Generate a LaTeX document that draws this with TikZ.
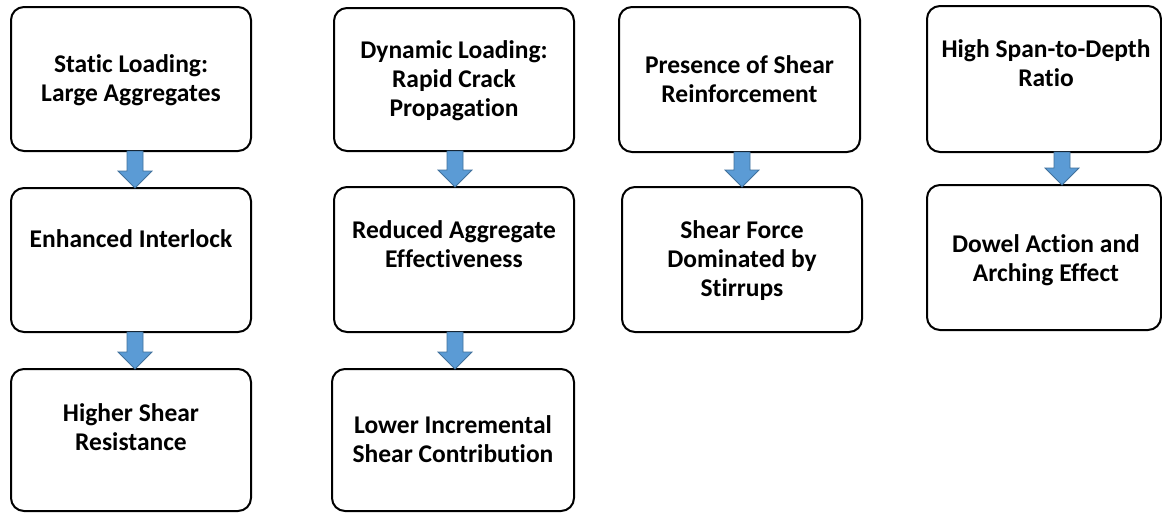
\documentclass[tikz,border=0pt]{standalone}
\usepackage{fontspec}
\setmainfont{Carlito}[Ligatures={NoCommon}]
\usetikzlibrary{calc}
\definecolor{arrowfill}{HTML}{5B9BD5}
\definecolor{arrowedge}{HTML}{41719C}
\newcommand{\mlines}[1]{\vtop{\baselineskip=29pt\lineskiplimit=-10pt\halign{\hfil##\hfil\cr#1\crcr}}}
\begin{document}
\begin{tikzpicture}[x=1pt,y=-1pt,
  stagebox/.style={draw=black,line width=2pt,rounded corners=13pt,inner sep=0pt,outer sep=0pt},
  txt/.style={inner sep=0pt,anchor=base,font=\fontsize{25.5}{29}\selectfont\bfseries},
  blockarrow/.style={fill=arrowfill,draw=arrowedge,line width=0.8pt,line join=miter}
]
\useasboundingbox (0,0) rectangle (1162,514);
\fill[white] (0,0) rectangle (1162,514);
% boxes
\node[stagebox,minimum width=240pt,minimum height=144pt] (A1) at (131,79) {};
\node[stagebox,minimum width=240pt,minimum height=144pt] (A2) at (131,260) {};
\node[stagebox,minimum width=240pt,minimum height=142pt] (A3) at (131,440) {};
\node[stagebox,minimum width=240pt,minimum height=143pt] (B1) at (454,79.5) {};
\node[stagebox,minimum width=240pt,minimum height=145pt] (B2) at (454,259.5) {};
\node[stagebox,minimum width=242pt,minimum height=142pt] (B3) at (453,440) {};
\node[stagebox,minimum width=241pt,minimum height=145pt] (C1) at (739.5,79.5) {};
\node[stagebox,minimum width=240pt,minimum height=145pt] (C2) at (742,259.5) {};
\node[stagebox,minimum width=234pt,minimum height=146pt] (D1) at (1044,79) {};
\node[stagebox,minimum width=234pt,minimum height=145pt] (D2) at (1044,257.5) {};
% texts
\node[txt] (tA1) at (131,72) {\mlines{Static Loading:\cr Large Aggregates}};
\node[txt] (tA2) at (131,247) {\mlines{Enhanced Interlock}};
\node[txt] (tA3) at (131,421) {\mlines{Higher Shear\cr Resistance}};
\node[txt] (tB1) at (454,58) {\mlines{Dynamic Loading:\cr Rapid Crack\cr Propagation}};
\node[txt] (tB2) at (454,238) {\mlines{Reduced Aggregate\cr Effectiveness}};
\node[txt] (tB3) at (453,433) {\mlines{Lower Incremental\cr Shear Contribution}};
\node[txt] (tC1) at (739.5,73) {\mlines{Presence of Shear\cr Reinforcement}};
\node[txt] (tC2) at (742,238) {\mlines{Shear Force\cr Dominated by\cr Stirrups}};
\node[txt] (tD1) at (1046,57) {\mlines{High Span-to-Depth\cr Ratio}};
\node[txt] (tD2) at (1046,252) {\mlines{Dowel Action and\cr Arching Effect}};
% block arrows: #1 from node, #2 to node, #3 x-offset from #1.south
\newcommand{\flowarrow}[3]{%
  \draw[blockarrow] let \p1=(#1.south), \p2=(#2.north) in
    (\x1+#3-8pt,\y1) -- (\x1+#3+8pt,\y1) -- (\x1+#3+8pt,\y2+17pt) --
    (\x1+#3+17pt,\y2+17pt) -- (\x1+#3,\y2) -- (\x1+#3-17pt,\y2+17pt) --
    (\x1+#3-8pt,\y2+17pt) -- cycle;}
\flowarrow{A1}{A2}{4pt}
\flowarrow{A2}{A3}{4pt}
\flowarrow{B1}{B2}{1pt}
\flowarrow{B2}{B3}{1pt}
\flowarrow{C1}{C2}{2.5pt}
\flowarrow{D1}{D2}{18pt}
\end{tikzpicture}
\end{document}
